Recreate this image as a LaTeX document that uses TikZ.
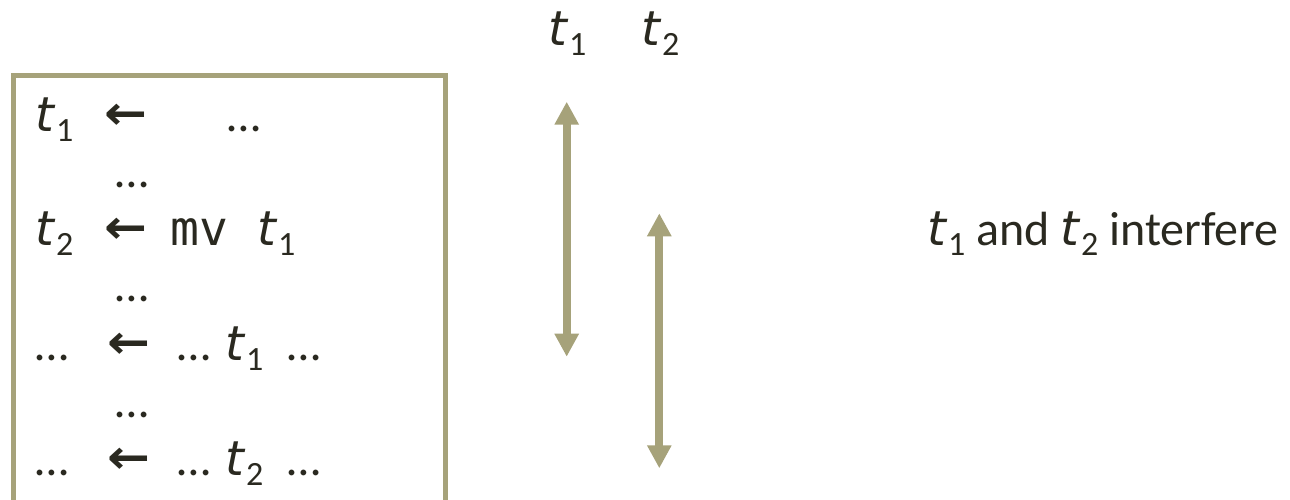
\RequirePackage{fix-cm}
\documentclass[tikz,border=0pt]{standalone}
\usepackage{fontspec}
\setmainfont{Carlito}
\newfontfamily\monof{DejaVu Sans Mono}
\newfontfamily\arrf{DejaVu Sans}
\newfontfamily\varf{DejaVu Sans}
\usetikzlibrary{arrows.meta}
\definecolor{olivec}{HTML}{A6A27A}
\definecolor{inkc}{HTML}{2A2920}
\newcommand{\tvar}[1]{{\varf\itshape t}\kern2pt\raisebox{-10pt}{\fontsize{34}{34}\selectfont #1}}
\newcommand{\larr}{\raisebox{2pt}{\scalebox{1.22}[1.12]{\arrf\bfseries\fontsize{42}{42}\selectfont ←}}}
\begin{document}
\begin{tikzpicture}[x=1pt,y=-1pt,
  txt/.style={anchor=base west,inner sep=0pt,text=inkc,font=\fontsize{48}{58}\selectfont},
  dbl/.style={draw=olivec,line width=8pt,{Triangle[width=23pt,length=23pt]}-{Triangle[width=23pt,length=23pt]}}]
\clip (0,0) rectangle (1290,499);
\fill[white] (0,0) rectangle (1290,499);
% box
\coordinate (bl) at (13.5,540);
\coordinate (tl) at (13.5,75);
\coordinate (tr) at (445,75);
\coordinate (br) at (445,540);
\draw[olivec,line width=5pt,line join=miter] (bl) -- (tl) -- (tr) -- (br);
% row 1
\node[txt] (r1a) at (35,131) {\tvar{1}};
\node[txt] (r1b) at (104,131) {\larr};
\node[txt] (r1c) at (227,131) {…};
% row 2
\node[txt] (r2) at (115,187) {…};
% row 3
\node[txt] (r3a) at (35,245) {\tvar{2}};
\node[txt] (r3b) at (104,245) {\larr};
\node[txt] (r3c) at (170,245) {\monof\fontsize{48}{54}\selectfont mv};
\node[txt] (r3d) at (257,245) {\tvar{1}};
% row 4
\node[txt] (r4) at (115,301) {…};
% row 5
\node[txt] (r5a) at (35,360) {…};
\node[txt] (r5b) at (107,360) {\larr};
\node[txt] (r5c) at (177,360) {…};
\node[txt] (r5d) at (225,360) {\tvar{1}};
\node[txt] (r5e) at (287,360) {…};
% row 6
\node[txt] (r6) at (115,417) {…};
% row 7
\node[txt] (r7a) at (35,475) {…};
\node[txt] (r7b) at (107,475) {\larr};
\node[txt] (r7c) at (177,475) {…};
\node[txt] (r7d) at (225,475) {\tvar{2}};
\node[txt] (r7e) at (287,475) {…};
% lifetime labels
\node[txt] (l1) at (548,45) {\tvar{1}};
\node[txt] (l2) at (641,45) {\tvar{2}};
% lifetime arrows
\coordinate (a1t) at (566.7,101.7);
\coordinate (a1b) at (566.7,356.7);
\coordinate (a2t) at (659.3,213.3);
\coordinate (a2b) at (659.3,468.3);
\draw[dbl] (a1t) -- (a1b);
\draw[dbl] (a2t) -- (a2b);
% note
\node[txt] (note) at (927,245) {\tvar{1} and \tvar{2} interfere};
\end{tikzpicture}
\end{document}
